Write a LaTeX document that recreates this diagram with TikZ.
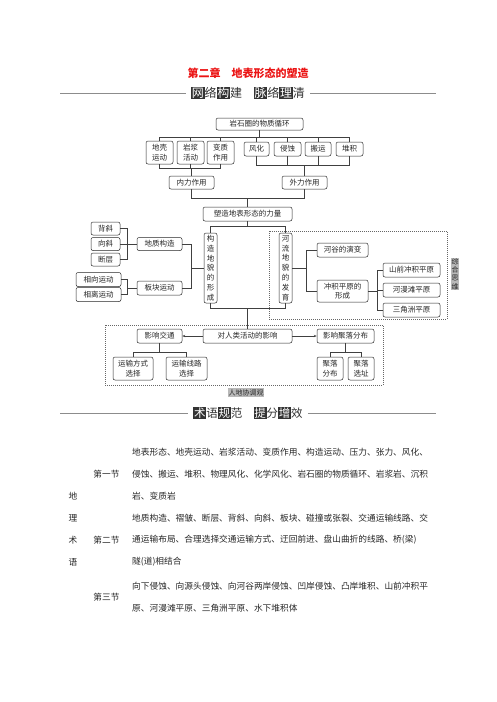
\documentclass[tikz,border=0pt]{standalone}
\usepackage{fontspec}
\setmainfont{Noto Sans CJK SC}
\usetikzlibrary{arrows.meta}

\definecolor{biaohong}{RGB}{235,20,20}
\definecolor{huidi}{RGB}{185,185,185}

\newcommand{\heizi}[1]{{\setlength{\fboxsep}{0.7pt}\colorbox{black!80}{\textcolor{white}{#1}}}}

\begin{document}
\begin{tikzpicture}[
  x=1pt, y=-1pt,
  kuang/.style={draw=black!85, rounded corners=2pt, line width=0.5pt, inner sep=0.5pt,
    align=center, text=black!85, font=\fontsize{7.5}{9.5}\selectfont},
  shu/.style={kuang, font=\fontsize{7.5}{9.8}\selectfont, minimum width=13pt, minimum height=70pt},
  xian/.style={draw=black!75, line width=0.5pt},
  xuxian/.style={draw=black!60, line width=0.5pt, dash pattern=on 1pt off 1pt},
  huibiao/.style={fill=huidi, inner sep=0.8pt, text=black!85, align=center,
    font=\fontsize{7}{8.3}\selectfont},
  hengxian/.style={draw=black!45, line width=0.8pt},
  zhengwen/.style={anchor=west, inner sep=0pt, text=black!85, font=\fontsize{8.7}{10}\selectfont},
  biaoqian/.style={inner sep=0pt, text=black!85, font=\fontsize{8.7}{10}\selectfont}
]
\useasboundingbox (0,0) rectangle (496,702);

%--------------------------------------------------------------
% 标题
%--------------------------------------------------------------
\node[font=\fontsize{11}{12}\selectfont\bfseries, text=biaohong] (biaoti) at (248,73)
  {第二章\hspace{1em}地表形态的塑造};

\node[font=\fontsize{12}{13}\selectfont, text=black!80, inner sep=0pt] (bt1) at (248,93)
  {\heizi{网}络\heizi{构}建\hspace{1em}\heizi{脉}络\heizi{理}清};
\coordinate (zuo1) at (60,93);
\coordinate (you1) at (436,93);
\draw[hengxian] (zuo1) -- ([xshift=-5pt]bt1.west);
\draw[hengxian] ([xshift=5pt]bt1.east) -- (you1);

%--------------------------------------------------------------
% 岩石圈的物质循环
%--------------------------------------------------------------
\node[kuang, minimum width=87pt, minimum height=12pt] (yanshi) at (259.5,124) {岩石圈的物质循环};

\node[kuang, minimum width=27pt, minimum height=23pt] (dk) at (159.5,152.5) {地壳\\运动};
\node[kuang, minimum width=27pt, minimum height=23pt] (yj) at (190.5,152.5) {岩浆\\活动};
\node[kuang, minimum width=27pt, minimum height=23pt] (bz) at (220.5,152.5) {变质\\作用};

\node[kuang, minimum width=25pt, minimum height=14pt] (fh) at (256.5,149) {风化};
\node[kuang, minimum width=27pt, minimum height=14pt] (qs) at (287.5,149) {侵蚀};
\node[kuang, minimum width=26pt, minimum height=14pt] (by) at (318,149) {搬运};
\node[kuang, minimum width=27pt, minimum height=14pt] (dj) at (349.5,149) {堆积};

\node[kuang, minimum width=45pt, minimum height=13pt] (nl) at (191.5,182.5) {内力作用};
\node[kuang, minimum width=45pt, minimum height=13pt] (wl) at (304.5,182.5) {外力作用};

\coordinate (y1) at (0,137);
\draw[xian] (yanshi.south) -- (yanshi.south |- y1);
\draw[xian] (dk.north) |- (dj.north |- y1) -- (dj.north);
\foreach \k in {yj,bz,fh,qs,by}
  \draw[xian] (\k.north) -- (\k.north |- y1);

\coordinate (y2) at (0,168);
\draw[xian] (dk.south) |- (bz.south |- y2) -- (bz.south);
\draw[xian] (yj.south) -- (yj.south |- y2);
\draw[xian] (nl.north) -- (nl.north |- y2);

\coordinate (y3) at (0,165);
\draw[xian] (fh.south) |- (dj.south |- y3) -- (dj.south);
\foreach \k in {qs,by}
  \draw[xian] (\k.south) -- (\k.south |- y3);
\draw[xian] (wl.north) -- (wl.north |- y3);

%--------------------------------------------------------------
% 塑造地表形态的力量
%--------------------------------------------------------------
\node[kuang, minimum width=89pt, minimum height=14pt] (sz) at (247.5,214) {塑造地表形态的力量};

\coordinate (y4) at (0,198);
\draw[xian] (nl.south) |- (wl.south |- y4) -- (wl.south);
\draw[xian] (sz.north) -- (sz.north |- y4);

\node[shu] (gz) at (210.5,268) {构\\造\\地\\貌\\的\\形\\成};
\node[shu] (hl) at (285.5,268) {河\\流\\地\\貌\\的\\发\\育};

\coordinate (y5) at (0,226);
\draw[xian] (gz.north) |- (hl.north |- y5) -- (hl.north);
\draw[xian] (sz.south) -- (sz.south |- y5);

%--------------------------------------------------------------
% 构造地貌
%--------------------------------------------------------------
\node[kuang, minimum width=29pt, minimum height=13pt] (bx) at (105.5,228.5) {背斜};
\node[kuang, minimum width=29pt, minimum height=13pt] (xx) at (105.5,244) {向斜};
\node[kuang, minimum width=29pt, minimum height=13pt] (dc) at (105.5,259.5) {断层};
\node[kuang, minimum width=45pt, minimum height=13pt] (dzgz) at (159.5,244) {地质构造};

\node[kuang, minimum width=45pt, minimum height=14pt] (xxyd) at (98.5,279.5) {相向运动};
\node[kuang, minimum width=45pt, minimum height=14pt] (xlyd) at (98.5,294.5) {相离运动};
\node[kuang, minimum width=45pt, minimum height=14pt] (bkyd) at (159.5,288) {板块运动};

\coordinate (x1) at (127,0);
\draw[xian] (bx.east) -| (x1 |- dc.east) -- (dc.east);
\draw[xian] (xx.east) -- (dzgz.west);
\draw[xian] (xxyd.east) -| (x1 |- xlyd.east) -- (xlyd.east);
\draw[xian] (bkyd.west) -- (bkyd.west -| x1);

\coordinate (x2) at (191,0);
\draw[xian] (dzgz.east) -| (x2 |- bkyd.east) -- (bkyd.east);
\draw[xian] (gz.west) -- (gz.west -| x2);

%--------------------------------------------------------------
% 河流地貌
%--------------------------------------------------------------
\draw[xuxian] (269,231) rectangle (447,319);
\node[huibiao] (zhsw) at (455,274) {综\\合\\思\\维};

\node[kuang, minimum width=51pt, minimum height=14pt] (hgyb) at (342.5,250) {河谷的演变};
\node[kuang, minimum width=51pt, minimum height=22pt] (cjpy) at (342.5,291) {冲积平原的\\形成};

\node[kuang, minimum width=57pt, minimum height=14pt] (sqcj) at (411.5,270) {山前冲积平原};
\node[kuang, minimum width=57pt, minimum height=14pt] (hmt) at (411.5,290) {河漫滩平原};
\node[kuang, minimum width=57pt, minimum height=14pt] (sjz) at (411.5,310) {三角洲平原};

\coordinate (x3) at (306,0);
\draw[xian] (hgyb.west) -| (x3 |- cjpy.west) -- (cjpy.west);
\draw[xian] (hl.east) -- (hl.east -| x3);

\coordinate (x4) at (377,0);
\draw[xian] (sqcj.west) -| (x4 |- sjz.west) -- (sjz.west);
\draw[xian] (hmt.west) -- (hmt.west -| x4);
\draw[xian] (cjpy.east) -- (cjpy.east -| x4);

%--------------------------------------------------------------
% 对人类活动的影响
%--------------------------------------------------------------
\draw[xuxian] (105,325) rectangle (383,385);
\node[huibiao] (rdxt) at (246,392.5) {人地协调观};

\node[kuang, minimum width=45pt, minimum height=14pt] (yxjt) at (159.5,336) {影响交通};
\node[kuang, minimum width=89pt, minimum height=14pt] (drl) at (247.5,336) {对人类活动的影响};
\node[kuang, minimum width=57pt, minimum height=14pt] (yxjl) at (345.5,336) {影响聚落分布};

\coordinate (y6) at (0,308);
\draw[xian] (gz.south) |- (hl.south |- y6) -- (hl.south);
\draw[xian] (drl.north) -- (drl.north |- y6);

\draw[xian, -{Stealth[length=3pt, width=2.4pt]}] (drl) -- (yxjt);
\draw[xian, -{Stealth[length=3pt, width=2.4pt]}] (drl) -- (yxjl);

\node[kuang, minimum width=40pt, minimum height=23pt] (ysfs) at (133,368.5) {运输方式\\选择};
\node[kuang, minimum width=41pt, minimum height=23pt] (ysxl) at (186.5,368.5) {运输线路\\选择};
\node[kuang, minimum width=26pt, minimum height=23pt] (jlfb) at (330,368.5) {聚落\\分布};
\node[kuang, minimum width=26pt, minimum height=23pt] (jlxz) at (361,368.5) {聚落\\选址};

\coordinate (y7) at (0,352);
\draw[xian] (ysfs.north) |- (ysxl.north |- y7) -- (ysxl.north);
\draw[xian] (yxjt.south) -- (yxjt.south |- y7);
\draw[xian] (jlfb.north) |- (jlxz.north |- y7) -- (jlxz.north);
\draw[xian] (yxjl.south) -- (yxjl.south |- y7);

%--------------------------------------------------------------
% 术语规范
%--------------------------------------------------------------
\node[font=\fontsize{11.5}{13}\selectfont, text=black!80, inner sep=0pt] (bt2) at (248,413)
  {\heizi{术}语\heizi{规}范\hspace{1em}\heizi{提}分\heizi{增}效};
\coordinate (zuo2) at (60,413);
\coordinate (you2) at (436,413);
\draw[hengxian] (zuo2) -- ([xshift=-5pt]bt2.west);
\draw[hengxian] ([xshift=5pt]bt2.east) -- (you2);

\foreach \zi/\yy in {地/496, 理/518, 术/540, 语/562}
  \node[biaoqian] at (73,\yy) {\zi};

\node[biaoqian] (jie1) at (106.5,474) {第一节};
\node[biaoqian] (jie2) at (106.5,540) {第二节};
\node[biaoqian] (jie3) at (106.5,597) {第三节};

\node[zhengwen] (h1) at (132,452) {地表形态、地壳运动、岩浆活动、变质作用、构造运动、压力、张力、风化、};
\node[zhengwen] (h2) at (132,474) {侵蚀、搬运、堆积、物理风化、化学风化、岩石圈的物质循环、岩浆岩、沉积};
\node[zhengwen] (h3) at (132,496) {岩、变质岩};
\node[zhengwen] (h4) at (132,518) {地质构造、褶皱、断层、背斜、向斜、板块、碰撞或张裂、交通运输线路、交};
\node[zhengwen] (h5) at (132,540) {通运输布局、合理选择交通运输方式、迂回前进、盘山曲折的线路、桥(梁)};
\node[zhengwen] (h6) at (132,562) {隧(道)相结合};
\node[zhengwen] (h7) at (132,586) {向下侵蚀、向源头侵蚀、向河谷两岸侵蚀、凹岸侵蚀、凸岸堆积、山前冲积平};
\node[zhengwen] (h8) at (132,608) {原、河漫滩平原、三角洲平原、水下堆积体};

\end{tikzpicture}
\end{document}
